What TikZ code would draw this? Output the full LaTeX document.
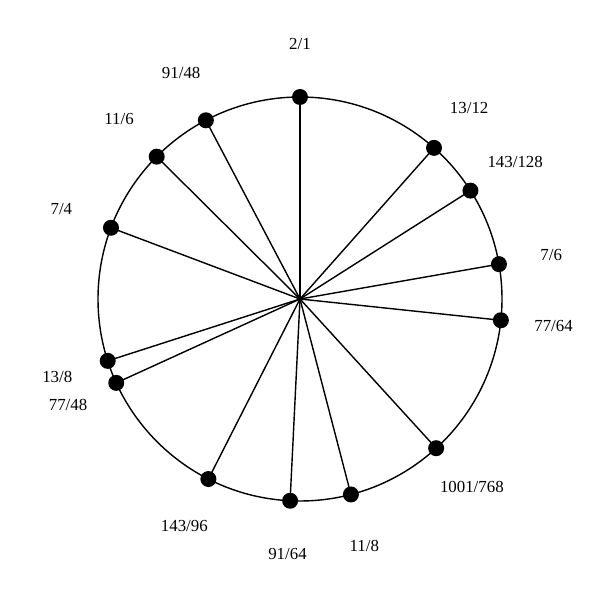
\documentclass[tikz,border=0pt]{standalone}
\usepackage{fontspec}
\setmainfont{Liberation Serif}
\usetikzlibrary{positioning}
\tikzset{
    % ratio on the circle
    pt/.style={
        circle,
        fill=black,
        draw=none,
        minimum size=0.4cm,
        inner sep=0pt,
    },
    % ratio label
    lbl/.style={
        font=\fontsize{12}{14}\selectfont,
        inner sep=0pt,
    },
    spoke/.style={
        line width=1pt,
    },
}
\begin{document}
\begin{tikzpicture}
\useasboundingbox (0,0) rectangle (15,15);
% Define origin point
\coordinate (origin) at (7.5,7.525);
\begin{scope}[shift={(origin)}]
    \draw[line width=1pt] (0,0) circle (5.05);
    % Draw points (angle = 90 - 360*log2(ratio))
    \node[pt] (R1) at (90:5.05) {};
    \node[pt] (R2) at (48.43:5.05) {};
    \node[pt] (R3) at (32.45:5.05) {};
    \node[pt] (R4) at (9.94:5.05) {};
    \node[pt] (R5) at (-6.04:5.05) {};
    \node[pt] (R6) at (-47.62:5.05) {};
    \node[pt] (R7) at (-75.40:5.05) {};
    \node[pt] (R8) at (-92.81:5.05) {};
    \node[pt] (R9) at (-116.97:5.05) {};
    \node[pt] (R10) at (-155.46:5.05) {};
    \node[pt] (R11) at (-162.16:5.05) {};
    \node[pt] (R12) at (-200.65:5.05) {};
    \node[pt] (R13) at (-224.81:5.05) {};
    \node[pt] (R14) at (-242.22:5.05) {};
    % Labels
    \node[lbl] (L1) at (90:6.375) {2/1};
    \node[lbl] (L2) at (48.43:6.375) {13/12};
    \node[lbl] (L3) at (32.45:6.375) {143/128};
    \node[lbl] (L4) at (9.94:6.375) {7/6};
    \node[lbl] (L5) at (-6.04:6.375) {77/64};
    \node[lbl] (L6) at (-47.62:6.375) {1001/768};
    \node[lbl] (L7) at (-75.40:6.375) {11/8};
    \node[lbl] (L8) at (-92.81:6.375) {91/64};
    \node[lbl] (L9) at (-116.97:6.375) {143/96};
    \node[lbl] (L10) at (-155.46:6.375) {77/48};
    \node[lbl] (L11) at (-162.16:6.375) {13/8};
    \node[lbl] (L12) at (-200.65:6.375) {7/4};
    \node[lbl] (L13) at (-224.81:6.375) {11/6};
    \node[lbl] (L14) at (-242.22:6.375) {91/48};
\end{scope}
% Draw spokes
\draw[spoke] (origin) -- (R1.center);
\draw[spoke] (origin) -- (R2.center);
\draw[spoke] (origin) -- (R3.center);
\draw[spoke] (origin) -- (R4.center);
\draw[spoke] (origin) -- (R5.center);
\draw[spoke] (origin) -- (R6.center);
\draw[spoke] (origin) -- (R7.center);
\draw[spoke] (origin) -- (R8.center);
\draw[spoke] (origin) -- (R9.center);
\draw[spoke] (origin) -- (R10.center);
\draw[spoke] (origin) -- (R11.center);
\draw[spoke] (origin) -- (R12.center);
\draw[spoke] (origin) -- (R13.center);
\draw[spoke] (origin) -- (R14.center);
\end{tikzpicture}
\end{document}
